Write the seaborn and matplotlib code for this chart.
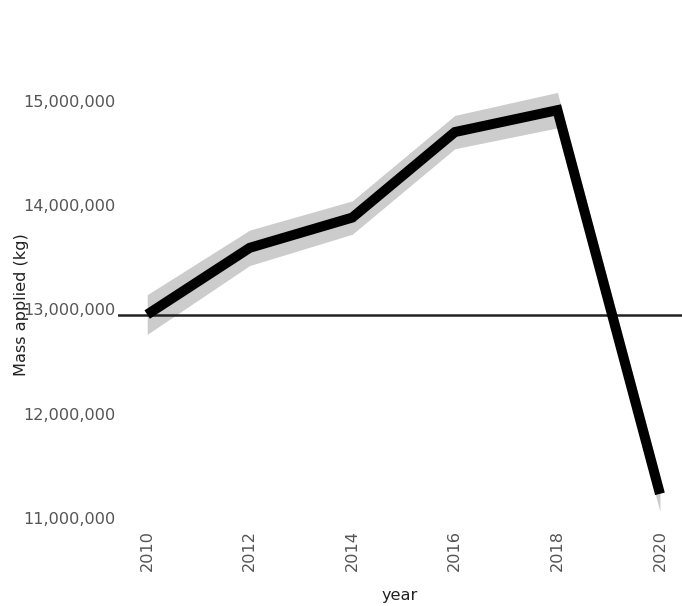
import matplotlib
matplotlib.use("Agg")
import matplotlib.pyplot as plt
import matplotlib.ticker as mticker
import seaborn as sns
import pandas as pd

years = [2010, 2012, 2014, 2016, 2018, 2020]
mass = [12950000, 13590000, 13880000, 14700000, 14910000, 11230000]
lower = [12760000, 13420000, 13720000, 14540000, 14740000, 11060000]
upper = [13140000, 13760000, 14040000, 14860000, 15080000, 11400000]
ref_value = 12942000
y_ticks = [11000000, 12000000, 13000000, 14000000, 15000000]
x_ticks = [2010, 2012, 2014, 2016, 2018, 2020]

df = pd.DataFrame({"year": years, "mass": mass})

sns.set_theme(style="white")
plt.rcParams["font.family"] = ["DejaVu Sans"]

fig = plt.figure(figsize=(6.82, 6.06), dpi=100)
ax = fig.add_axes([0.173, 0.134, 0.827, 0.726])

ax.fill_between(years, lower, upper, color="#cccccc", linewidth=0, zorder=1)
sns.lineplot(data=df, x="year", y="mass", ax=ax, color="black", linewidth=7.2,
             solid_capstyle="butt", solid_joinstyle="miter", zorder=3)
ax.axhline(ref_value, color="#222222", linewidth=1.8, zorder=2)

ax.set_xlim(2009.43, 2020.43)
ax.set_ylim(10933000, 15153000)
ax.set_xticks(x_ticks)
ax.set_xticklabels([str(x) for x in x_ticks], rotation=90)
ax.set_yticks(y_ticks)
ax.yaxis.set_major_formatter(mticker.FuncFormatter(lambda v, p: f"{int(v):,}"))
ax.tick_params(axis="both", length=0, labelsize=11.6, labelcolor="#555555")
ax.tick_params(axis="y", pad=2)
ax.tick_params(axis="x", pad=4)
for s in ax.spines.values():
    s.set_visible(False)
ax.grid(False)
ax.set_xlabel("year", fontsize=11.6, color="#222222", labelpad=12)
ax.set_ylabel("Mass applied (kg)", fontsize=11.6, color="#222222")
ax.yaxis.set_label_coords(-0.158, 0.5)

fig.savefig("out.png", dpi=100)
